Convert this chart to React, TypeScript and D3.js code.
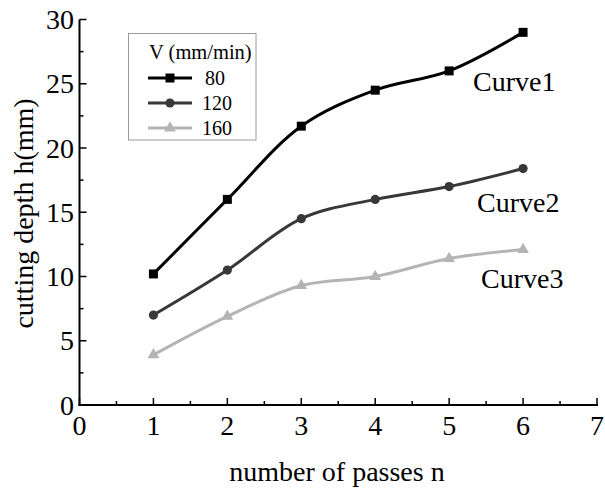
import React from "react";
import * as d3 from "d3";

// Number of passes (x) and cutting depth h (mm) for each feed speed
const passes = [1, 2, 3, 4, 5, 6];
const depth80 = [10.2, 16.0, 21.7, 24.5, 26.0, 29.0];
const depth120 = [7.0, 10.5, 14.5, 16.0, 17.0, 18.4];
const depth160 = [3.9, 6.9, 9.3, 10.0, 11.4, 12.1];
const speedLabels = ["80", "120", "160"];
const curveNames = ["Curve1", "Curve2", "Curve3"];
const xTicks = [0, 1, 2, 3, 4, 5, 6, 7];
const yTicks = [0, 5, 10, 15, 20, 25, 30];

const W = 605;
const H = 488;
const FONT = "'Liberation Serif', 'Times New Roman', serif";

const x = d3.scaleLinear().domain([0, 7]).range([79.5, 597]);
const y = d3.scaleLinear().domain([0, 30]).range([405, 19.5]);

const seriesStyle = [
  { color: "#000000", symbol: d3.symbolSquare, size: 81 },
  { color: "#383838", symbol: d3.symbolCircle, size: 66 },
  { color: "#b4b4b4", symbol: d3.symbolTriangle, size: 60 },
];

const allSeries = [depth80, depth120, depth160];

const curveLabelPos = [
  { x: 473, y: 91 },
  { x: 477, y: 212 },
  { x: 481, y: 288 },
];

export default function App() {
  const line = d3
    .line<number>()
    .x((_, i) => x(passes[i]))
    .y((d) => y(d))
    .curve(d3.curveCatmullRom.alpha(0.5));

  const xMinor = d3.range(0.5, 7, 1);
  const yMinor = d3.range(2.5, 30, 5);

  return (
    <svg
      width={W}
      height={H}
      style={{ position: "absolute", left: 0, top: 0, background: "#fff" }}
      fontFamily={FONT}
    >
      <rect width={W} height={H} fill="#fff" />

      {/* axes */}
      <line x1={x(0)} x2={x(0)} y1={y(30)} y2={y(0) + 1} stroke="#000" strokeWidth={2} />
      <line x1={x(0) - 1} x2={x(7) + 1} y1={y(0)} y2={y(0)} stroke="#000" strokeWidth={2} />

      {xTicks.map((t) => (
        <g key={"xt" + t}>
          <line x1={x(t)} x2={x(t)} y1={y(0)} y2={y(0) - 7} stroke="#000" strokeWidth={1.5} />
          <text x={x(t)} y={435} fontSize={28} textAnchor="middle" fill="#000">
            {t}
          </text>
        </g>
      ))}
      {xMinor.map((t) => (
        <line key={"xm" + t} x1={x(t)} x2={x(t)} y1={y(0)} y2={y(0) - 4} stroke="#000" strokeWidth={1.5} />
      ))}

      {yTicks.map((t) => (
        <g key={"yt" + t}>
          <line x1={x(0)} x2={x(0) + 7} y1={y(t)} y2={y(t)} stroke="#000" strokeWidth={1.5} />
          <text x={74} y={y(t) + 9.5} fontSize={28} textAnchor="end" fill="#000">
            {t}
          </text>
        </g>
      ))}
      {yMinor.map((t) => (
        <line key={"ym" + t} x1={x(0)} x2={x(0) + 4} y1={y(t)} y2={y(t)} stroke="#000" strokeWidth={1.5} />
      ))}

      {/* axis titles */}
      <text x={337} y={481} fontSize={28} textAnchor="middle" fill="#000">
        number of passes n
      </text>
      <text
        transform={`translate(33, 213.5) rotate(-90)`}
        fontSize={28}
        textAnchor="middle"
        fill="#000"
      >
        cutting depth h(mm)
      </text>

      {/* series */}
      {allSeries.map((vals, si) => {
        const st = seriesStyle[si];
        const sym = d3.symbol().type(st.symbol).size(st.size)();
        return (
          <g key={"s" + si}>
            <path d={line(vals) || ""} fill="none" stroke={st.color} strokeWidth={3} />
            {vals.map((v, i) => (
              <path
                key={i}
                d={sym || ""}
                transform={`translate(${x(passes[i])},${y(v)})`}
                fill={st.color}
              />
            ))}
          </g>
        );
      })}

      {/* curve labels */}
      {curveNames.map((n, i) => (
        <text key={n} x={curveLabelPos[i].x} y={curveLabelPos[i].y} fontSize={28} fill="#000">
          {n}
        </text>
      ))}

      {/* legend */}
      <rect x={128.5} y={33.5} width={127.5} height={106.5} fill="#fff" stroke="#9a9a9a" strokeWidth={1} />
      <text x={149} y={59} fontSize={20.5} fill="#000">
        V (mm/min)
      </text>
      {speedLabels.map((lab, i) => {
        const st = seriesStyle[i];
        const ly = 78 + i * 25;
        const sym = d3.symbol().type(st.symbol).size(st.size)();
        return (
          <g key={"lg" + lab}>
            <line x1={148} x2={192} y1={ly} y2={ly} stroke={st.color} strokeWidth={3} />
            <path d={sym || ""} transform={`translate(170,${ly})`} fill={st.color} />
            <text x={i === 0 ? 205 : 202} y={ly + 7} fontSize={20} fill="#000">
              {lab}
            </text>
          </g>
        );
      })}
    </svg>
  );
}
